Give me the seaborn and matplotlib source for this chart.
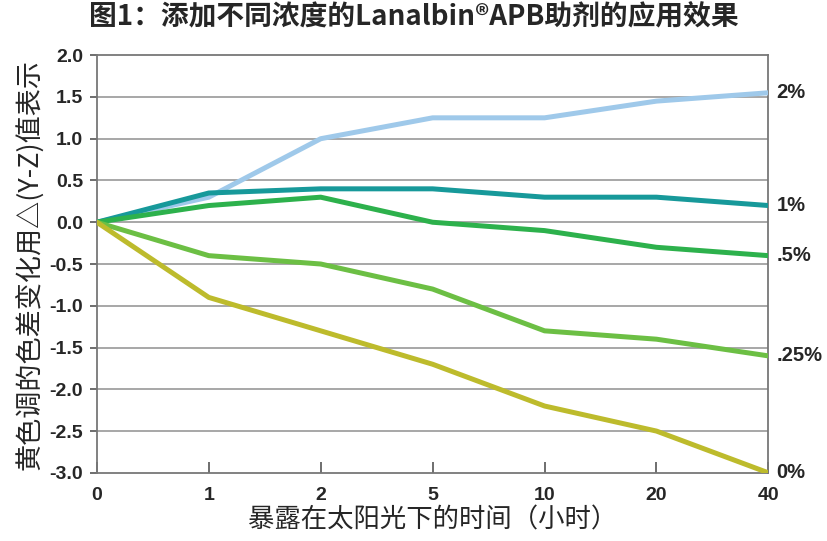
import matplotlib
matplotlib.use("Agg")
import matplotlib.pyplot as plt
import seaborn as sns
import pandas as pd

x_labels = ["0", "1", "2", "5", "10", "20", "40"]
series_names = ["2%", "1%", ".5%", ".25%", "0%"]
s_2 = [0, 0.3, 1.0, 1.25, 1.25, 1.45, 1.55]
s_1 = [0, 0.35, 0.4, 0.4, 0.3, 0.3, 0.2]
s_05 = [0, 0.2, 0.3, 0.0, -0.1, -0.3, -0.4]
s_025 = [0, -0.4, -0.5, -0.8, -1.3, -1.4, -1.6]
s_0 = [0, -0.9, -1.3, -1.7, -2.2, -2.5, -3.0]
colors = ["#9fc9ea", "#17999a", "#2db14c", "#6cbf44", "#bdbb2c"]

values = [s_2, s_1, s_05, s_025, s_0]
rows = []
for name, vals in zip(series_names, values):
    for i, v in enumerate(vals):
        rows.append({"pos": i, "val": v, "series": name})
df = pd.DataFrame(rows)

sns.set_theme(style="white")
plt.rcParams['font.family'] = ['Noto Sans CJK SC', 'DejaVu Sans']

fig = plt.figure(figsize=(8.28, 5.41), dpi=100)
ax = fig.add_axes([0.117, 0.126, 0.811, 0.772])

for y in [-2.5, -2.0, -1.5, -1.0, -0.5, 0.0, 0.5, 1.0, 1.5]:
    ax.axhline(y, color="#a0a0a0", lw=1.3, zorder=0)

sns.lineplot(data=df, x="pos", y="val", hue="series", hue_order=series_names,
             palette=dict(zip(series_names, colors)), lw=3.6, legend=False,
             ax=ax, zorder=3)

ax.set_xlim(0, 6)
ax.set_ylim(-3.0, 2.0)
ax.set_xticks(range(len(x_labels)))
ax.set_xticklabels(x_labels, fontsize=14, fontweight="bold", family="Liberation Sans")
yt = [2.0, 1.5, 1.0, 0.5, 0.0, -0.5, -1.0, -1.5, -2.0, -2.5, -3.0]
ax.set_yticks(yt)
ax.set_yticklabels([f"{v:.1f}" for v in yt], fontsize=14, fontweight="bold", family="Liberation Sans")
ax.tick_params(axis="x", direction="in", length=8, width=1.2, color="#555555", pad=10, bottom=True)
ax.tick_params(axis="y", direction="out", length=5, width=1.2, color="#555555", pad=5, left=True)

for s in ax.spines.values():
    s.set_color("#777777")
    s.set_linewidth(1.3)

for name, vals in zip(series_names, values):
    ax.annotate(name, xy=(6, vals[-1]), xytext=(6, 0), textcoords="offset points",
                va="center", ha="left", fontsize=14.5, fontweight="bold",
                family="Liberation Sans", annotation_clip=False)

ax.set_xlabel("暴露在太阳光下的时间（小时）", fontsize=19, labelpad=2)
ax.set_ylabel("黄色调的色差变化用△(Y-Z)值表示", fontsize=19.5, labelpad=4)
fig.text(0.5, 0.967, "图1：添加不同浓度的Lanalbin®APB助剂的应用效果", ha="center", va="center",
         fontsize=20, fontweight="bold")

fig.savefig("out.png", dpi=100)
